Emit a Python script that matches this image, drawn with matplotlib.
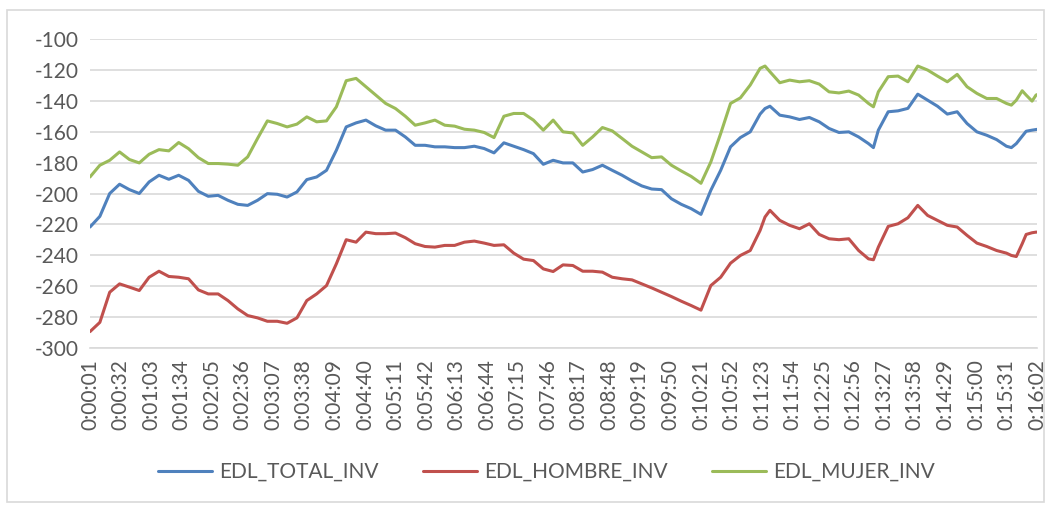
import matplotlib.pyplot as plt
from matplotlib.patches import Rectangle

plt.rcParams['font.family'] = ['Lato', 'DejaVu Sans']
plt.rcParams['axes.unicode_minus'] = False

# seconds from 0:00:00 of every sample
secs = (list(range(1, 682, 10)) + [686] + list(range(691, 792, 10)) + [796]
        + list(range(801, 932, 10)) + [936, 941, 947, 951, 957, 961, 962])

edl_total = [-221.7, -214.8, -200, -194, -197.5, -200, -192.5, -188.2, -190.8, -188.2,
             -191.5, -198.6, -201.8, -201.2, -204.4, -207, -207.7, -204.4, -200.1, -200.5,
             -202.3, -199, -191, -189.3, -185, -172, -156.9, -154.3, -152.5, -156.2,
             -159, -159, -163.4, -168.8, -168.8, -169.8, -169.8, -170.3, -170.3, -169.4,
             -170.9, -173.7, -167.2, -169.4, -171.6, -174.2, -181.1, -178.5, -180.2, -180.2,
             -186.1, -184.5, -181.7, -185, -188.2, -191.9, -195.1, -197.1, -197.5, -203.4,
             -207, -209.8, -213.5, -197.9, -185, -169.8, -163.8, -160.1, -148.6,
             -145,
             -143.5, -149.3, -150.4, -152.1, -150.8, -153.6, -157.9, -160.5, -160.1, -163.4, -167.7,
             -170.3,
             -159, -147.1, -146.5, -144.9, -135.7, -139.6, -143.5, -148.6, -147.1, -154.7,
             -160.1, -162.3, -165.1, -169.4,
             -170.3, -167.7, -162.9, -159.7, -159, -158.6, -158.5]

edl_hombre = [-289.4, -283.4, -263.9, -258.5, -260.6, -262.8, -254.2, -250.3, -253.7, -254.2,
              -255.2, -262.4, -265, -265, -269.3, -274.7, -279, -280.5, -282.7, -282.7,
              -284, -280.5, -269.3, -265, -259.6, -245.5, -229.9, -231.5, -225, -226,
              -226, -225.6, -228.6, -232.5, -234.3, -234.7, -233.6, -233.6, -231.5, -230.8,
              -232.1, -233.6, -233.2, -238.6, -242.5, -243.4, -248.8, -250.5, -246.2, -246.6,
              -250.3, -250.3, -250.9, -254.2, -255.2, -255.9, -258.5, -261.1, -263.9, -266.7,
              -269.7, -272.5, -275.5, -259.6, -254.2, -245.1, -240.1, -236.9, -223.9,
              -215.2,
              -210.9, -217.4, -220.6, -222.8, -219.6, -226.5, -229.3, -229.9, -229.3, -236.9, -242.3,
              -242.9,
              -234.7, -221.3, -219.6, -215.7, -207.7, -214.2, -217.4, -220.6, -221.7, -227.1,
              -232.1, -234.3, -236.9, -238.6,
              -240.1, -240.8, -232.5, -226.5, -225.4, -225, -225]

edl_mujer = [-189.3, -181.7, -178.5, -173.1, -178, -180.2, -174.6, -171.6, -172.4, -167,
             -171, -176.8, -180.6, -180.6, -181, -181.7, -176.3, -164.4, -153, -154.7,
             -156.9, -155.1, -150.4, -153.6, -153, -143.9, -127, -125.5, -130.9, -136.3,
             -141.7, -145, -150, -155.8, -154.3, -152.5, -155.8, -156.4, -158.4, -159,
             -160.5, -163.8, -150, -148.2, -148.2, -152.5, -159, -152.5, -160.1, -160.8,
             -168.8, -163.4, -157.3, -159.5, -164.4, -169.4, -173.1, -176.8, -176.3, -181.7,
             -185.4, -188.9, -193.4, -179.6, -161.2, -141.7, -138.1, -129.8, -119,
             -117.5,
             -121.2, -128.3, -126.6, -127.7, -127, -129.2, -134.2, -134.9, -133.7, -136.3, -141.7,
             -143.9,
             -134.2, -124.4, -124, -127.7, -117.5, -120.1, -124, -127.7, -122.9, -130.9,
             -135.2, -138.5, -138.5, -141.7,
             -142.8, -139.6, -133.5, -136.3, -140.2, -136.3, -136]

series = {
    "EDL_TOTAL_INV": (edl_total, "#4F81BD"),
    "EDL_HOMBRE_INV": (edl_hombre, "#C0504D"),
    "EDL_MUJER_INV": (edl_mujer, "#9BBB59"),
}

tick_secs = list(range(1, 963, 31))
tick_labels = ["%d:%02d:%02d" % (s // 3600, (s % 3600) // 60, s % 60) for s in tick_secs]

fig = plt.figure(figsize=(10.51, 5.08), dpi=100)
ax = fig.add_axes([90 / 1051, 1 - 348 / 508, (1037 - 90) / 1051, (348 - 39) / 508])

for name, (vals, col) in series.items():
    ax.plot(secs, vals, color=col, lw=2.2, label=name,
            solid_capstyle='round', solid_joinstyle='round')

ax.set_xlim(1, 962)
ax.set_ylim(-300, -100)
ax.set_yticks(range(-300, -99, 20))
ax.set_xticks(tick_secs, tick_labels, rotation=90)
ax.grid(axis='y', color='#D9D9D9', lw=1.2)
ax.set_axisbelow(True)
for s in ['top', 'right', 'left']:
    ax.spines[s].set_visible(False)
ax.spines['bottom'].set_color('#D9D9D9')
ax.spines['bottom'].set_linewidth(1.2)
ax.tick_params(axis='both', length=0, labelsize=15, labelcolor='#595959')
ax.tick_params(axis='x', pad=8)
ax.tick_params(axis='y', pad=8)

fig.legend(loc='center', bbox_to_anchor=(0.52, 1 - 472 / 508), ncol=3, frameon=False,
           fontsize=15, labelcolor='#595959', handlelength=2.6, handletextpad=0.35,
           columnspacing=2.1)

fig.patches.append(Rectangle((7 / 1051, 6 / 508), 1037 / 1051, 492 / 508,
                             transform=fig.transFigure, fill=False,
                             edgecolor='#D9D9D9', lw=1.2))

fig.savefig("out.png", dpi=100)
